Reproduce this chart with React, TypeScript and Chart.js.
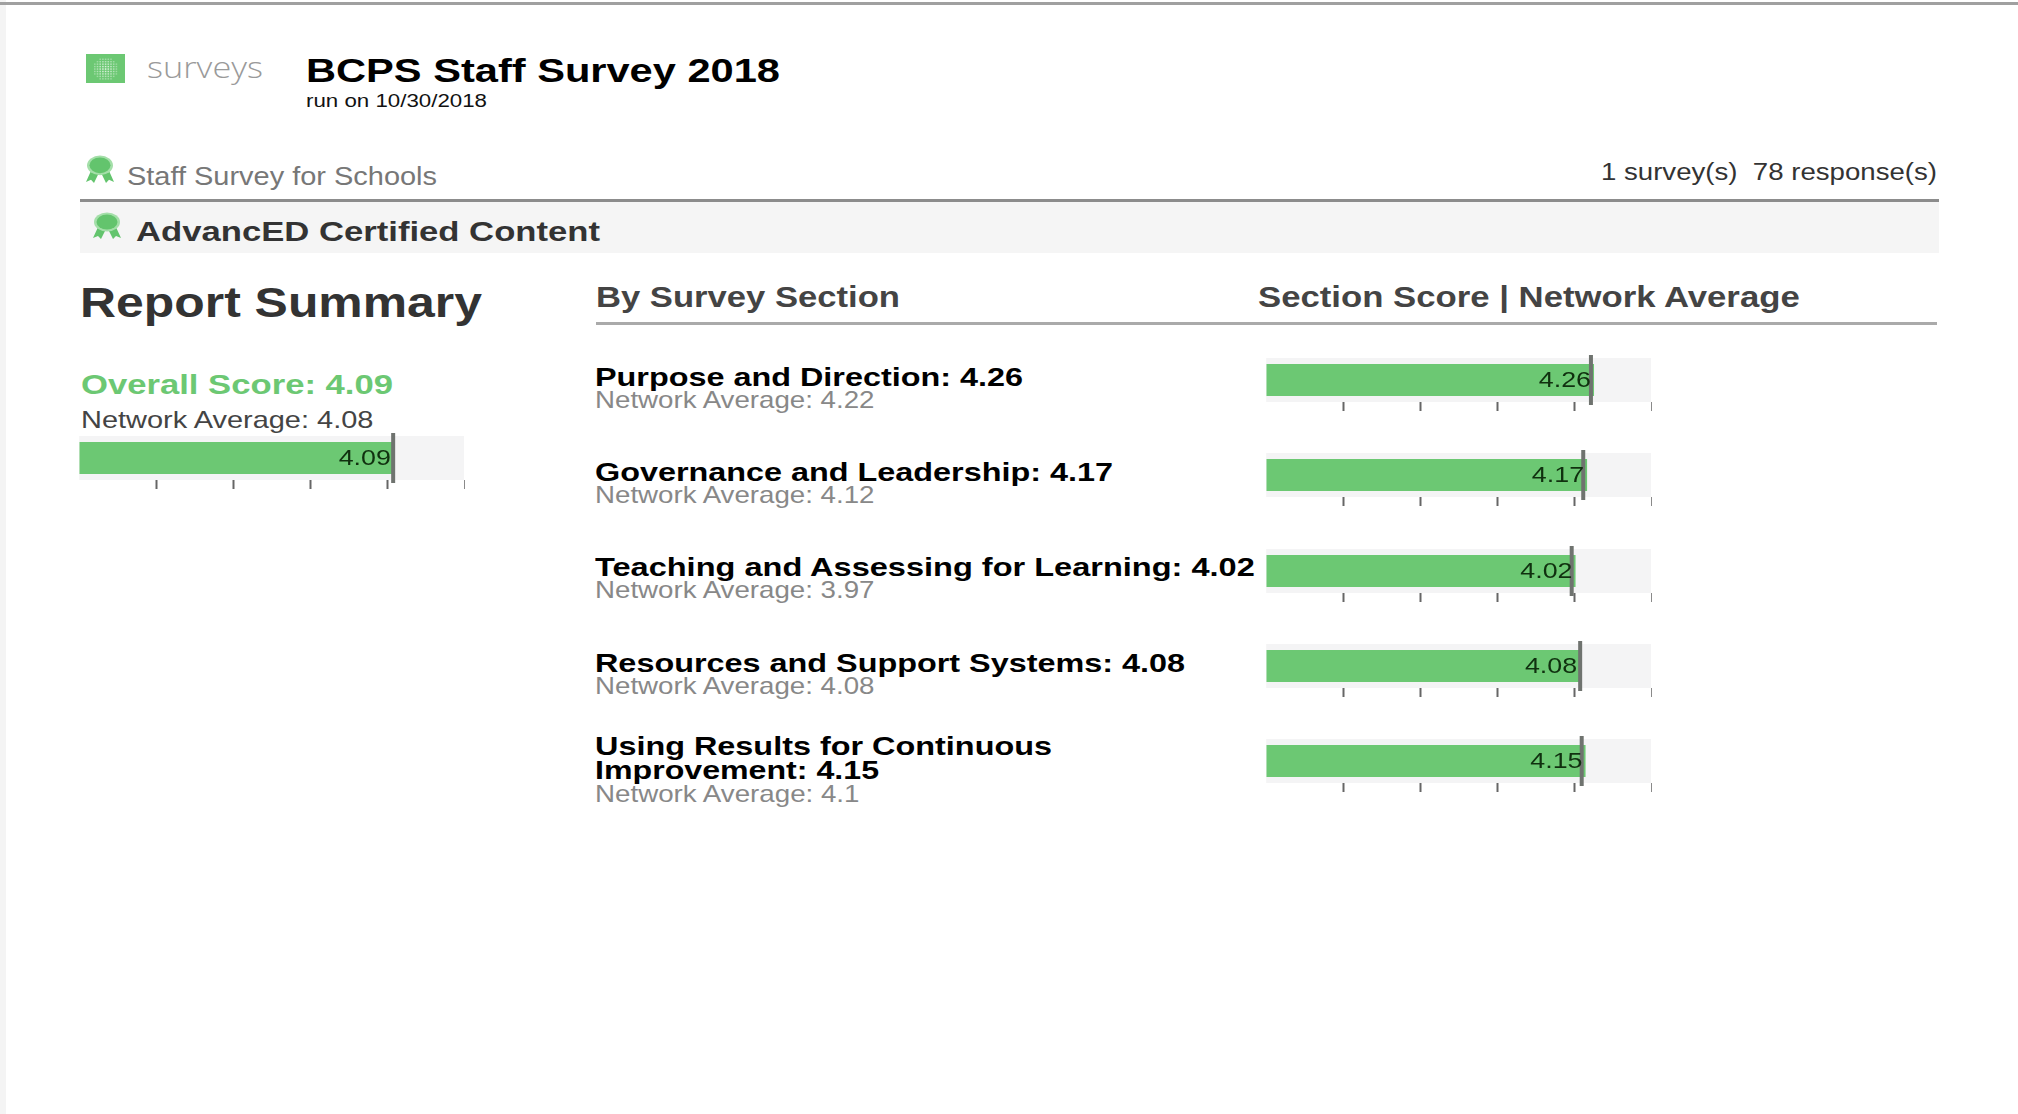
import React, { useEffect, useRef } from "react";
import { Chart, registerables } from "chart.js";

Chart.register(...registerables);

const overallScore = 4.09;
const overallNetwork = 4.08;
const sectionNames = [
  "Purpose and Direction",
  "Governance and Leadership",
  "Teaching and Assessing for Learning",
  "Resources and Support Systems",
  "Using Results for Continuous Improvement",
];
const sectionScores = [4.26, 4.17, 4.02, 4.08, 4.15];
const networkAverages = [4.22, 4.12, 3.97, 4.08, 4.1];
const scaleTicks = [0, 1, 2, 3, 4, 5];
const markerHalfWidth = 0.026;

const FONT = '"Liberation Sans", Arial, sans-serif';
const GREEN = "#6cc873";
const fmt = (v: number) => v.toFixed(2);

const measure = document.createElement("canvas").getContext("2d") as CanvasRenderingContext2D;

function Txt(props: { x: number; base: number; size: number; w: number; bold?: boolean; color: string; children: string; family?: string; weight?: number }) {
  const { x, base, size, w, bold, color, children, family, weight } = props;
  const fw = weight ?? (bold ? 700 : 400);
  const fam = family ?? FONT;
  measure.font = `${fw} ${size}px ${fam}`;
  const sx = w / measure.measureText(children).width;
  return (
    <div
      style={{
        position: "absolute",
        left: x,
        top: base - size * 0.78,
        fontFamily: fam,
        fontWeight: fw,
        fontSize: size,
        lineHeight: `${size * 0.9}px`,
        height: size * 0.9,
        color,
        whiteSpace: "pre",
        transform: `scaleX(${sx})`,
        transformOrigin: "left top",
      }}
    >
      {children}
    </div>
  );
}

function Bullet({ label, score, network, left, top }: { label: string; score: number; network: number; left: number; top: number }) {
  const ref = useRef<HTMLCanvasElement>(null);
  useEffect(() => {
    const chart = new Chart(ref.current as HTMLCanvasElement, {
      type: "bar",
      data: {
        labels: [label],
        datasets: [
          {
            label: "Network Average",
            data: [[network - markerHalfWidth, network + markerHalfWidth]],
            backgroundColor: "#6f736f",
            barPercentage: 50 / 44,
            categoryPercentage: 1,
            grouped: false,
            clip: false,
          } as any,
          {
            label: "Score",
            data: [score],
            backgroundColor: GREEN,
            barPercentage: 32 / 44,
            categoryPercentage: 1,
            grouped: false,
          },
          {
            label: "Scale",
            data: [scaleTicks[scaleTicks.length - 1]],
            backgroundColor: "#f4f4f5",
            barPercentage: 1,
            categoryPercentage: 1,
            grouped: false,
          },
        ],
      },
      options: {
        indexAxis: "y",
        animation: false,
        responsive: false,
        devicePixelRatio: 1,
        layout: { padding: { left: 4, right: 4, top: 4, bottom: 2 } },
        plugins: { legend: { display: false }, tooltip: { enabled: false }, title: { display: false } },
        scales: {
          x: {
            type: "linear",
            min: scaleTicks[0],
            max: scaleTicks[scaleTicks.length - 1],
            afterBuildTicks: (axis: any) => { axis.ticks = scaleTicks.map((value) => ({ value })); },
            border: { display: false },
            ticks: { display: false },
            grid: {
              drawOnChartArea: false,
              drawTicks: true,
              tickLength: 9,
              tickWidth: (c: any) => (c.tick?.value === 5 ? 1 : 2),
              tickColor: (c: any) => (c.tick?.value === 0 ? "rgba(0,0,0,0)" : c.tick?.value === 5 ? "#8a8a8a" : "#666"),
            },
          },
          y: { type: "category", display: false, grid: { display: false } },
        },
      },
      plugins: [
        {
          id: "valueLabel",
          afterDatasetsDraw(c: any) {
            const el = c.getDatasetMeta(1).data[0];
            const ctx = c.ctx;
            ctx.save();
            ctx.translate(el.x - 3, el.y + 7);
            ctx.scale(1.22, 1);
            ctx.font = `22px ${FONT}`;
            ctx.textAlign = "right";
            ctx.textBaseline = "alphabetic";
            ctx.fillStyle = "#10300f";
            ctx.fillText(fmt(score), 0, 0);
            ctx.restore();
          },
        },
      ],
    } as any);
    return () => chart.destroy();
  }, [label, score, network]);
  return (
    <canvas
      ref={ref}
      width={385 + 8}
      height={44 + 9 + 6}
      style={{ position: "absolute", left: left - 4, top: top - 4, width: 393, height: 59 }}
    />
  );
}

function Ribbon({ x, y, w, h }: { x: number; y: number; w: number; h: number }) {
  return (
    <svg style={{ position: "absolute", left: x, top: y }} width={w} height={h} viewBox="0 0 30 28" preserveAspectRatio="none">
      <path d="M7 13 L1 26 L6 24 L9 27 L13 19 L17 19 L21 27 L24 24 L29 26 L23 13 Z" fill="#63c46d" />
      <ellipse cx="15" cy="10" rx="13" ry="9.5" fill="#a4dfa9" />
      <ellipse cx="15" cy="10" rx="10.5" ry="7.5" fill="#63c46d" />
    </svg>
  );
}

function Logo() {
  const dots: React.ReactElement[] = [];
  for (let i = 0; i < 9; i++)
    for (let j = 0; j < 9; j++) {
      const d = Math.hypot(i - 4, j - 4);
      if (d < 4.6)
        dots.push(<rect key={`${i}-${j}`} x={8 + i * 2.7} y={5 + j * 2.7} width={1.6} height={1.6} fill="#fff" opacity={0.85 - d * 0.12} />);
    }
  return (
    <svg style={{ position: "absolute", left: 86, top: 54 }} width={39} height={29} viewBox="0 0 39 32" preserveAspectRatio="none">
      <rect width="39" height="32" fill="#6cc873" />
      {dots}
    </svg>
  );
}

const sectionTitleRows = [
  { base: 386, lines: [`${sectionNames[0]}: ${fmt(sectionScores[0])}`], w: [428], netW: 281 },
  { base: 481, lines: [`${sectionNames[1]}: ${fmt(sectionScores[1])}`], w: [518], netW: 281 },
  { base: 576, lines: [`${sectionNames[2]}: ${fmt(sectionScores[2])}`], w: [661], netW: 281 },
  { base: 672, lines: [`${sectionNames[3]}: ${fmt(sectionScores[3])}`], w: [590], netW: 281 },
  { base: 755, lines: ["Using Results for Continuous", `Improvement: ${fmt(sectionScores[4])}`], w: [457, 284], netW: 266 },
];

export default function App() {
  useEffect(() => {
    document.body.style.margin = "0";
  }, []);
  return (
    <div style={{ position: "absolute", left: 0, top: 0, width: 2018, height: 1114, background: "#fff", overflow: "hidden", filter: "blur(0.5px)" }}>
      <div style={{ position: "absolute", left: 0, top: 0, width: 6, height: 1114, background: "#f4f4f4" }} />
      <div style={{ position: "absolute", left: 0, top: 2, width: 2018, height: 3, background: "#a0a0a0" }} />

      <Logo />
      <Txt x={147} base={76} size={30} w={116} color="#9a9a9a" family='"Open Sans", sans-serif' weight={300}>surveys</Txt>
      <Txt x={306} base={82} size={33} w={474} bold color="#000">BCPS Staff Survey 2018</Txt>
      <Txt x={306} base={107} size={18} w={181} color="#111">run on 10/30/2018</Txt>

      <Ribbon x={85} y={155} w={30} h={29} />
      <Txt x={127} base={184} size={25} w={310} color="#777">Staff Survey for Schools</Txt>
      <Txt x={1601} base={180} size={23} w={336} color="#333">{"1 survey(s)  78 response(s)"}</Txt>

      <div style={{ position: "absolute", left: 80, top: 199, width: 1859, height: 3, background: "#8c8c8c" }} />
      <div style={{ position: "absolute", left: 80, top: 202, width: 1859, height: 51, background: "#f5f5f5" }} />
      <Ribbon x={92} y={212} w={30} h={28} />
      <Txt x={136} base={241} size={27} w={464} bold color="#333">AdvancED Certified Content</Txt>

      <Txt x={80} base={317} size={42} w={402} bold color="#333">Report Summary</Txt>
      <Txt x={596} base={307} size={29} w={304} bold color="#444">By Survey Section</Txt>
      <Txt x={1258} base={307} size={29} w={543} bold color="#444">Section Score | Network Average</Txt>
      <div style={{ position: "absolute", left: 596, top: 322, width: 1341, height: 3, background: "#aaa" }} />

      <Txt x={81} base={394} size={28} w={312} bold color={GREEN}>{`Overall Score: ${fmt(overallScore)}`}</Txt>
      <Txt x={81} base={428} size={24} w={294} color="#444">{`Network Average: ${fmt(overallNetwork)}`}</Txt>
      <Bullet label="Overall" score={overallScore} network={overallNetwork} left={79} top={436} />

      {sectionTitleRows.map((r, i) => (
        <React.Fragment key={i}>
          {r.lines.map((ln, k) => (
            <Txt key={k} x={595} base={r.base + k * 24} size={26} w={r.w[k]} bold color="#000">{ln}</Txt>
          ))}
          <Txt x={595} base={r.base + (r.lines.length === 2 ? 47 : 22)} size={24} w={r.netW} color="#888">{`Network Average: ${networkAverages[i]}`}</Txt>
          <Bullet label={sectionNames[i]} score={sectionScores[i]} network={networkAverages[i]} left={1266} top={358 + Math.round(i * 95.3)} />
        </React.Fragment>
      ))}
    </div>
  );
}
